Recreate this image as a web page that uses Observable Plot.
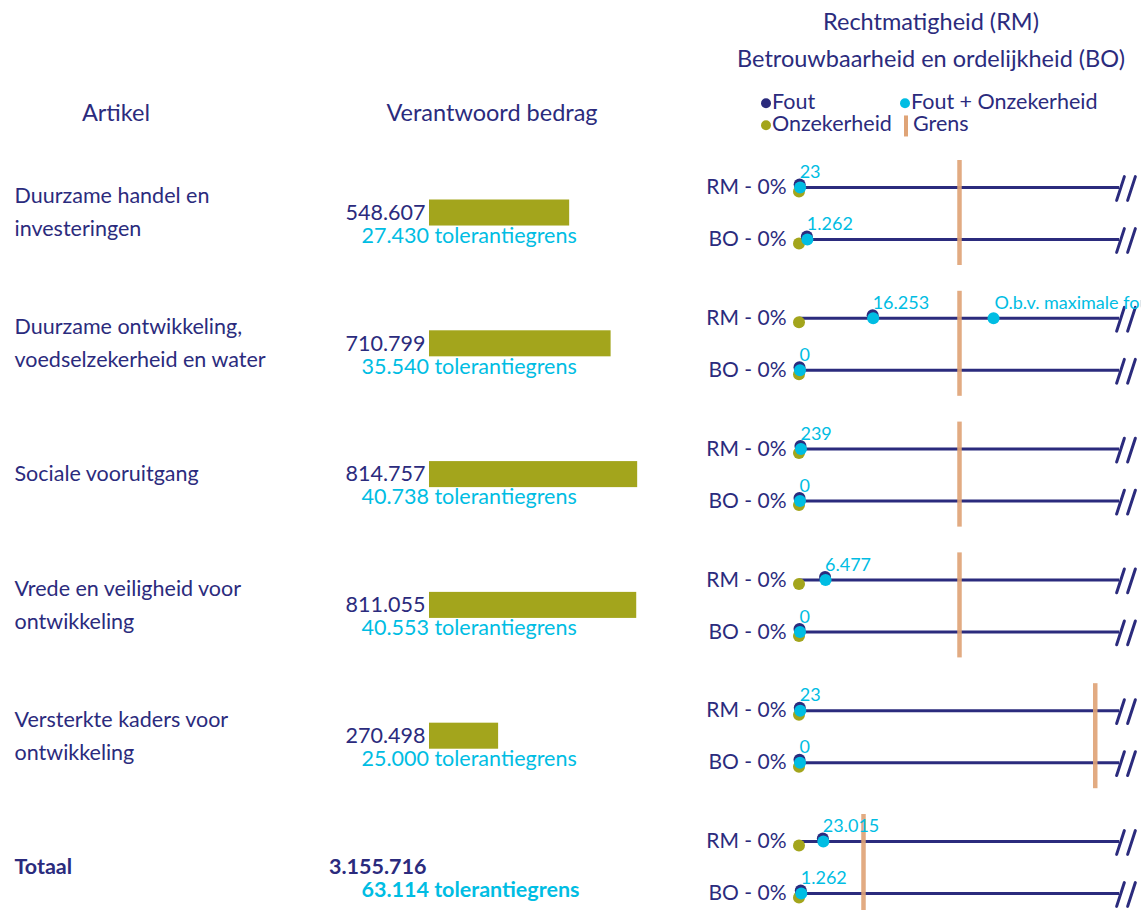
<!DOCTYPE html>
<html>
<head>
<meta charset="utf-8">
<script src="https://cdn.jsdelivr.net/npm/d3@7"></script>
<script src="https://cdn.jsdelivr.net/npm/@observablehq/plot@0.6"></script>
<style>
  html, body { margin: 0; padding: 0; background: #fff; overflow: hidden; }
  body { width: 1141px; height: 910px; position: relative; font-family: Lato, "Noto Sans", sans-serif; color: #2b2b7d; }
  .abs { position: absolute; white-space: nowrap; font-size: 21.5px; line-height: 1; }
  .h { font-size: 23.5px; }
  .c { transform: translate(-50%, -50%); }
  .l { transform: translate(0, -50%); }
  .mk { display: inline-block; vertical-align: middle; }
  #left { position: absolute; left: 0; top: 0; }
  #right { position: absolute; left: 690px; top: 0; }
</style>
</head>
<body>
<div id="left"></div>
<div id="right"></div>
<script>
// ---------- data ----------
const artikelen = [
  "Duurzame handel en\ninvesteringen",
  "Duurzame ontwikkeling,\nvoedselzekerheid en water",
  "Sociale vooruitgang",
  "Vrede en veiligheid voor\nontwikkeling",
  "Versterkte kaders voor\nontwikkeling",
  "Totaal"
];
const verantwoordBedrag = [548607, 710799, 814757, 811055, 270498, 3155716];
const tolerantiegrens   = [27430, 35540, 40738, 40553, 25000, 63114];
const foutRM            = [23, 16253, 239, 6477, 23, 23015];
const onzekerheidRM     = [0, 0, 0, 0, 0, 0];
const percentageRM      = [0, 0, 0, 0, 0, 0];
const foutBO            = [1262, 0, 0, 0, 0, 1262];
const onzekerheidBO     = [0, 0, 0, 0, 0, 0];
const percentageBO      = [0, 0, 0, 0, 0, 0];
const extraPunten = [{artikel: 1, type: "RM", waarde: 43100, label: "O.b.v. maximale fout"}];
const headers = ["Artikel", "Verantwoord bedrag", "Rechtmatigheid (RM)", "Betrouwbaarheid en ordelijkheid (BO)"];
const legendItems = ["Fout", "Fout + Onzekerheid", "Onzekerheid", "Grens"];

// ---------- styles ----------
const NAVY = "#2b2b7d", CYAN = "#00bde3", OLIVE = "#a3a51c", TAN = "#dfa477";
const FONT = "Lato, 'Noto Sans', sans-serif";
const FS = 21.5, LH = 33 / FS;
const nl = d3.formatLocale({decimal: ",", thousands: ".", grouping: [3], currency: ["€", ""]});
const fmt = nl.format(",d");

const groups = artikelen.map((a, i) => ({
  artikel: a, bedrag: verantwoordBedrag[i], tolerantie: tolerantiegrens[i], totaal: a === "Totaal"
}));
const rows = [];
artikelen.forEach((a, i) => {
  rows.push({artikel: a, type: "RM", bedrag: verantwoordBedrag[i], fout: foutRM[i], onz: onzekerheidRM[i], pct: percentageRM[i]});
  rows.push({artikel: a, type: "BO", bedrag: verantwoordBedrag[i], fout: foutBO[i], onz: onzekerheidBO[i], pct: percentageBO[i]});
});
const extra = extraPunten.map(d => ({...d, artikel: artikelen[d.artikel], bedrag: verantwoordBedrag[d.artikel]}));

const H = 919, TOP = 160;
const fyScale = {domain: artikelen, paddingInner: 0.197, paddingOuter: 0, round: false, axis: null};

// ---------- left plot ----------
const gBar = groups.filter(d => !d.totaal), gTot = groups.filter(d => d.totaal);
const left = Plot.plot({
  width: 690, height: H, marginTop: TOP, marginBottom: 0, marginLeft: 0, marginRight: 0,
  style: {fontFamily: FONT, background: "transparent"},
  x: {domain: [0, 1000000], range: [429, 684.5], axis: null},
  fy: fyScale,
  marks: [
    Plot.barX(gBar, {fy: "artikel", x1: 0, x2: "bedrag", fill: OLIVE, insetTop: 39.5, insetBottom: 39.5}),
    Plot.text(gBar, {fy: "artikel", frameAnchor: "left", dx: 14, dy: -(LH - 1) * 0.32 * FS, text: "artikel", textAnchor: "start", lineHeight: LH, fontSize: FS, fill: NAVY}),
    Plot.text(gTot, {fy: "artikel", frameAnchor: "left", dx: 14, text: "artikel", textAnchor: "start", fontSize: FS, fontWeight: "bold", fill: NAVY}),
    Plot.text(gBar, {fy: "artikel", x: 0, text: d => fmt(d.bedrag), textAnchor: "end", dx: -4, fontSize: FS, fill: NAVY}),
    Plot.text(gBar, {fy: "artikel", x: 0, text: d => fmt(d.tolerantie) + " tolerantiegrens", textAnchor: "start", dx: -68, dy: 23, fontSize: FS, fill: CYAN}),
    Plot.text(gTot, {fy: "artikel", x: 0, text: d => fmt(d.bedrag), textAnchor: "end", dx: -3, fontSize: FS, fontWeight: "bold", fill: NAVY}),
    Plot.text(gTot, {fy: "artikel", x: 0, text: d => fmt(d.tolerantie) + " tolerantiegrens", textAnchor: "start", dx: -68, dy: 23, fontSize: FS, fontWeight: "bold", fill: CYAN})
  ]
});
document.getElementById("left").append(left);

// ---------- right plot ----------
const slash = {draw(context, l) { context.moveTo(0, 0); context.lineTo(0, -l); }};
const right = Plot.plot({
  width: 451, height: H, marginTop: TOP, marginBottom: 0, marginLeft: 109, marginRight: 22,
  style: {fontFamily: FONT, background: "transparent"},
  x: {domain: [0, 0.1], axis: null},
  y: {type: "point", domain: ["RM", "BO"], padding: 0.5, axis: null},
  fy: fyScale,
  marks: [
    Plot.ruleY(rows, {fy: "artikel", y: "type", x1: 0, x2: 0.1, stroke: NAVY, strokeWidth: 3}),
    Plot.vector(rows, {fy: "artikel", y: "type", x: 0.1, dx: 1, dy: 1, rotate: 18, length: 25, anchor: "middle", shape: slash, stroke: NAVY, strokeWidth: 3}),
    Plot.vector(rows, {fy: "artikel", y: "type", x: 0.1, dx: 12, dy: 1, rotate: 18, length: 25, anchor: "middle", shape: slash, stroke: NAVY, strokeWidth: 3}),
    Plot.ruleX(groups, {fy: "artikel", x: d => d.tolerantie / d.bedrag, stroke: TAN, strokeWidth: 4.5, strokeOpacity: 0.92}),
    Plot.dot(rows, {fy: "artikel", y: "type", x: d => d.onz / d.bedrag, fill: OLIVE, r: 6, dy: 4, dx: -0.5}),
    Plot.dot(rows, {fy: "artikel", y: "type", x: d => d.fout / d.bedrag, fill: NAVY, r: 6, dy: -3}),
    Plot.dot(rows, {fy: "artikel", y: "type", x: d => (d.fout + d.onz) / d.bedrag, fill: CYAN, r: 6, dx: 0.5}),
    Plot.dot(extra, {fy: "artikel", y: "type", x: d => d.waarde / d.bedrag, fill: CYAN, r: 6}),
    Plot.text(rows, {fy: "artikel", y: "type", x: d => (d.fout + d.onz) / d.bedrag, text: d => fmt(d.fout + d.onz), textAnchor: "start", dx: 0, dy: -15, fontSize: 18, fill: CYAN}),
    Plot.text(extra, {fy: "artikel", y: "type", x: d => d.waarde / d.bedrag, text: "label", textAnchor: "start", dx: 1, dy: -15, fontSize: 18, fill: CYAN}),
    Plot.text(rows, {fy: "artikel", y: "type", x: 0, text: d => `${d.type} - ${d.pct}%`, textAnchor: "end", dx: -13, fontSize: 21, fill: NAVY})
  ]
});
document.getElementById("right").append(right);

// ---------- headers & legend (HTML) ----------
function label(txt, x, y, cls) {
  const el = document.createElement("div");
  el.className = "abs " + cls;
  el.style.left = x + "px"; el.style.top = y + "px";
  el.innerHTML = txt;
  document.body.append(el);
  return el;
}
label(headers[0], 116, 113, "h c");
label(headers[1], 492, 113, "h c");
label(headers[2], 931, 22, "h c");
label(headers[3], 931, 59, "h c");
const dot = c => `<span class="mk" style="width:10px;height:10px;border-radius:50%;background:${c};margin-right:1px;position:relative;top:-1px"></span>`;
const bar = c => `<span class="mk" style="width:4px;height:21px;background:${c};margin-right:5px;margin-left:2px"></span>`;
label(dot(NAVY) + legendItems[0], 761, 102, "l");
label(dot(CYAN) + legendItems[1], 900, 102, "l");
label(dot(OLIVE) + legendItems[2], 761, 124, "l");
label(bar(TAN) + legendItems[3], 902, 125, "l");
</script>
</body>
</html>
